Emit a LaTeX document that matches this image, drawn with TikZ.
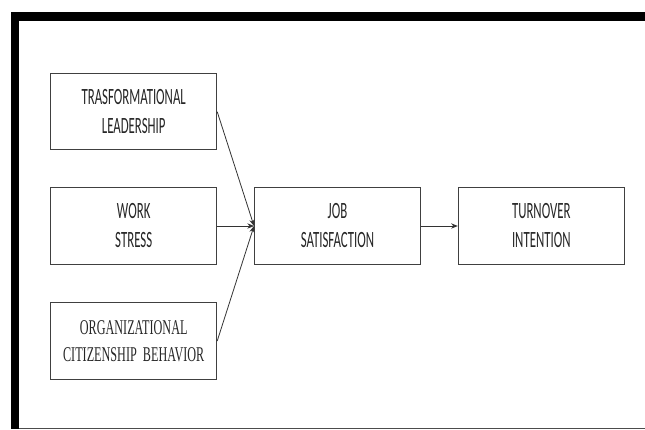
\documentclass[tikz,border=0pt]{standalone}
\usepackage{fontspec}
\usetikzlibrary{arrows.meta}
\newfontfamily\calfont[FakeStretch=0.55]{Carlito}
\newfontfamily\timfont[FakeStretch=0.58]{Liberation Serif}
\begin{document}
\begin{tikzpicture}[x=0.75pt,y=-0.75pt,
  varbox/.style={draw=black!75, line width=0.75pt, minimum width=124.5pt, minimum height=57.4pt,
    align=center, inner sep=0pt, text=black!85, font=\calfont\fontsize{17.5}{21.75}\selectfont},
  link/.style={draw=black!80, line width=0.6pt, -{Stealth[length=5pt,width=4pt]}}]
\useasboundingbox (0,0) rectangle (645,429);
% frame
\fill (11,12) rectangle (645,21);
\fill (11,12) rectangle (19,429);
\draw[black!70, line width=1pt] (19,428.3)--(645,428.3);
% variables
\node[varbox] (lead) at (133.7,111.7) {TRASFORMATIONAL\\LEADERSHIP};
\node[varbox] (stress) at (133.7,226) {WORK\\STRESS};
\node[varbox, font=\timfont\fontsize{15.75}{20.25}\selectfont] (ocb) at (133.7,341) {ORGANIZATIONAL\\CITIZENSHIP\ \ BEHAVIOR};
\node[varbox] (job) at (337.5,226) {JOB\\SATISFACTION};
\node[varbox] (turn) at (541.3,226) {TURNOVER\\INTENTION};
% paths
\draw[link] (lead.east) -- (job.west);
\draw[link] (stress.east) -- (job.west);
\draw[link] (ocb.east) -- (job.west);
\draw[link] (job.east) -- (turn.west);
\end{tikzpicture}
\end{document}
